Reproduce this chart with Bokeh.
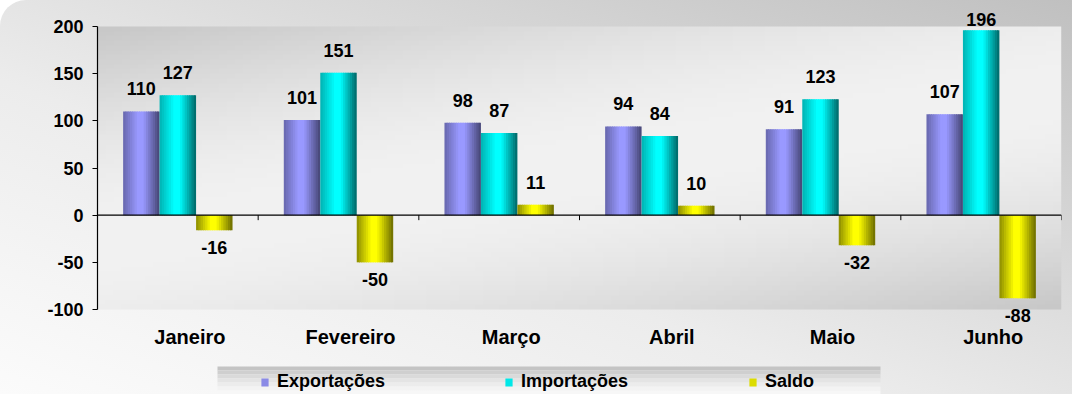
import numpy as np
from bokeh.plotting import figure
from bokeh.models import (ColumnDataSource, LabelSet, FixedTicker, Legend, LegendItem,
                          Span, Range1d, CustomJSTickFormatter)
from bokeh.core.properties import value
from bokeh.embed import file_html
from bokeh.resources import INLINE

# ---------------- data ----------------
meses = ["Janeiro", "Fevereiro", "Março", "Abril", "Maio", "Junho"]
series_names = ["Exportações", "Importações", "Saldo"]
exportacoes = [110, 101, 98, 94, 91, 107]
importacoes = [127, 151, 87, 84, 123, 196]
saldo = [-16, -50, 11, 10, -32, -88]
y_ticks = [-100, -50, 0, 50, 100, 150, 200]

# ---------------- style / layout ----------------
FONT = "Liberation Sans"
W, H = 1072, 394
ML, MR = 97, 11
FW = W - ML - MR
PA_TOP, PA_BOT = 26, 309          # canvas rows of the value-axis extent
VMIN, VMAX = min(y_ticks), max(y_ticks)
PX_PER_UNIT = (PA_BOT - PA_TOP) / (VMAX - VMIN)
Y1 = VMAX + PA_TOP / PX_PER_UNIT
Y0 = VMIN - (H - PA_BOT) / PX_PER_UNIT
X0, X1 = 0, len(meses)
BAR_W = 0.227
N_STRIP = 16
LABEL_SHIFT = 0.075
LABEL_GAP_UP = 16     # px between bar top and label baseline
LABEL_GAP_DOWN = 11   # px between bar bottom and label top
LABEL_MAX_SY = 25     # highest allowed baseline (canvas px)

base_colors = [(153, 153, 255), (0, 255, 255), (255, 255, 0)]
prof_t = [0.0, 0.4, 0.55, 1.0]
prof_f = [[0.68, 1.0, 1.0, 0.45], [0.70, 1.0, 1.0, 0.40], [0.55, 1.0, 1.0, 0.42]]


def sx2x(sx):
    return X0 + (sx - ML) / FW * (X1 - X0)


def sy2y(sy):
    return VMAX - (sy - PA_TOP) / PX_PER_UNIT


p = figure(width=W, height=H, output_backend="svg", toolbar_location=None,
           x_range=Range1d(X0, X1), y_range=Range1d(Y0, Y1),
           min_border_left=ML, min_border_right=MR, min_border_top=0, min_border_bottom=0)
p.border_fill_color = None
p.background_fill_color = None
p.outline_line_color = None
p.xgrid.visible = False
p.ygrid.visible = False
p.xaxis.visible = False
p.styles = {
    "background": "linear-gradient(200deg, #c0c0c0 0%, #d6d6d6 30%, #ececec 60%, #fbfbfb 100%)",
    "border-top-left-radius": "26px",
}

# plot-area gradient background
rows, cols = 60, 120
u = np.linspace(0, 1, cols)[None, :]
v = 1 - np.linspace(0, 1, rows)[:, None]
d = np.clip(0.65 * v + 0.35 * u, 0, 1)
g = (200 + 42 * np.sin(np.pi * d)).astype(np.uint32)
img = (np.uint32(255) << 24) | (g << 16) | (g << 8) | g
p.image_rgba(image=[img.astype(np.uint32)], x=X0, y=VMIN, dw=X1 - X0, dh=VMAX - VMIN, level="image")

# ---------------- legend box (gradient bands, drawn behind legend) ----------------
band_cols = ["#c4c4c4", "#cfcfcf", "#dadada", "#e4e4e4", "#ececec", "#f3f3f3", "#f7f7f7"]
lx0, lx1 = sx2x(217), sx2x(880)
ytop = 366
p.quad(left=[lx0] * len(band_cols), right=[lx1] * len(band_cols),
       top=[sy2y(ytop + j * 4) for j in range(len(band_cols))],
       bottom=[sy2y(ytop + (j + 1) * 4 + (30 if j == len(band_cols) - 1 else 0)) for j in range(len(band_cols))],
       fill_color=band_cols, line_color=None, level="image")

# ---------------- bars (shaded strips) ----------------
all_vals = [exportacoes, importacoes, saldo]
renderers = []
for s, vals in enumerate(all_vals):
    left, right, top, bottom, color = [], [], [], [], []
    offset = (s - 1) * BAR_W
    sw = BAR_W / N_STRIP
    for i, val in enumerate(vals):
        bl = i + 0.5 + offset - BAR_W / 2
        br = bl + BAR_W
        for k in range(N_STRIP):
            t = (k + 0.5) / N_STRIP
            f = np.interp(t, prof_t, prof_f[s])
            r, gg, b = [int(min(255, c * f)) for c in base_colors[s]]
            left.append(bl + k * sw)
            right.append(min(br, bl + (k + 1.4) * sw))
            top.append(max(0, val))
            bottom.append(min(0, val))
            color.append("#%02x%02x%02x" % (r, gg, b))
    src = ColumnDataSource(dict(left=left, right=right, top=top, bottom=bottom, color=color))
    rr = p.quad(left="left", right="right", top="top", bottom="bottom", source=src,
                fill_color="color", line_color=None)
    renderers.append(rr)

# zero line + category tick marks
p.add_layout(Span(location=0, dimension="width", line_color="black", line_width=1.2))
bounds = list(range(X0, X1 + 1))
p.segment(x0=bounds, y0=[0] * len(bounds), x1=bounds, y1=[-5 / PX_PER_UNIT] * len(bounds),
          line_color="black", line_width=1)

# ---------------- data labels ----------------
y_cap = sy2y(LABEL_MAX_SY)
for s, vals in enumerate(all_vals):
    offset = (s - 1) * BAR_W
    xs = [i + 0.5 + offset for i in range(len(vals))]
    pos = ColumnDataSource(dict(x=[x for x, v_ in zip(xs, vals) if v_ >= 0],
                                y=[min(v_ + LABEL_GAP_UP / PX_PER_UNIT, y_cap) for v_ in vals if v_ >= 0],
                                t=[str(v_) for v_ in vals if v_ >= 0]))
    neg = ColumnDataSource(dict(x=[x for x, v_ in zip(xs, vals) if v_ < 0],
                                y=[v_ for v_ in vals if v_ < 0],
                                t=[str(v_) for v_ in vals if v_ < 0]))
    p.add_layout(LabelSet(x="x", y="y", text="t", source=pos, text_align="center",
                          text_baseline="alphabetic",
                          text_font=value(FONT), text_font_style="bold",
                          text_font_size="18px", text_color="black"))
    p.add_layout(LabelSet(x="x", y="y", text="t", source=neg, text_align="center",
                          text_baseline="top", y_offset=-LABEL_GAP_DOWN,
                          text_font=value(FONT), text_font_style="bold",
                          text_font_size="18px", text_color="black"))

# ---------------- category labels ----------------
p.text(x=[i + 0.5 + LABEL_SHIFT for i in range(len(meses))], y=[sy2y(336)] * len(meses),
       text=meses, text_align="center", text_baseline="middle",
       text_font=value(FONT), text_font_style="bold", text_font_size="20px", text_color="black")

# ---------------- value axis ----------------
yax = p.yaxis[0]
yax.ticker = FixedTicker(ticks=y_ticks)
yax.bounds = (VMIN, VMAX)
yax.formatter = CustomJSTickFormatter(code="return tick.toFixed(0);")
yax.axis_line_color = "black"
yax.axis_line_width = 1.2
yax.major_tick_line_color = "black"
yax.major_tick_in = 0
yax.major_tick_out = 5
yax.minor_tick_line_color = None
yax.major_label_standoff = 9
yax.major_label_text_font = FONT
yax.major_label_text_font_style = "bold"
yax.major_label_text_font_size = "18px"
yax.major_label_text_color = "black"

# ---------------- legend ----------------
items = [LegendItem(label=series_names[s], renderers=[renderers[s]], index=4) for s in range(3)]
legend = Legend(items=items, orientation="horizontal", location=(163, 2),
                padding=6, spacing=112, label_width=115, label_standoff=8,
                glyph_width=9, glyph_height=10,
                label_text_font=FONT, label_text_font_style="bold", label_text_font_size="18px",
                label_text_color="black",
                background_fill_alpha=0, border_line_color=None)
p.add_layout(legend, "center")

open("out.html", "w").write(file_html(p, INLINE))
